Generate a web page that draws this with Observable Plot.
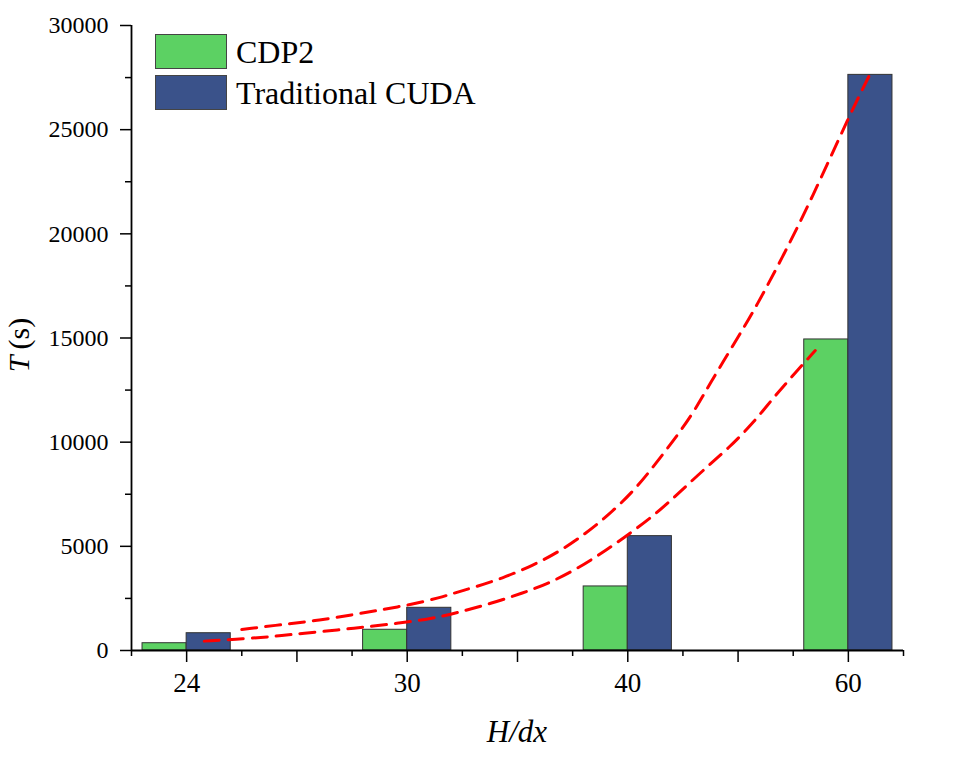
<!DOCTYPE html>
<html>
<head>
<meta charset="utf-8">
<script src="https://cdn.jsdelivr.net/npm/d3@7"></script>
<script src="https://cdn.jsdelivr.net/npm/@observablehq/plot@0.6"></script>
<style>
  body { margin: 0; background: #fff; }
  #wrap { position: relative; width: 963px; height: 758px; font-family: "Liberation Serif", "Times New Roman", serif; }
  .legend { position: absolute; left: 155px; top: 34px; }
  .legend .row { display: flex; align-items: center; height: 35px; margin-bottom: 6px; }
  .legend .sw { width: 72px; height: 35px; box-sizing: border-box; border: 1px solid #444; margin-right: 9px; }
  .legend .lab { font-size: 32px; color: #000; line-height: 32px; }
</style>
</head>
<body>
<div id="wrap"></div>
<script>
// ---- data ----
const categories = ["24", "30", "40", "60"];
const seriesNames = ["CDP2", "Traditional CUDA"];
const seriesColors = ["#5cd163", "#3a528a"];
const cdp2 = [350, 995, 3075, 14930];
const cuda = [830, 2050, 5490, 27630];

// dashed fit curves (x in category-index units)
const upperFitX = [0.25, 0.46, 0.60, 0.75, 0.88, 1.02, 1.15, 1.22, 1.30, 1.43, 1.57, 1.69, 1.81, 1.91, 2.02, 2.11, 2.20, 2.29, 2.36, 2.43, 2.51, 2.58, 2.71, 2.83, 3.01, 3.10];
const upperFitY = [1010, 1280, 1450, 1710, 1950, 2210, 2540, 2780, 3020, 3460, 4080, 4750, 5620, 6480, 7580, 8740, 9980, 11280, 12580, 13820, 15220, 16460, 19050, 21600, 25800, 27700];
const lowerFitX = [0.08, 0.26, 0.40, 0.53, 0.69, 0.81, 0.96, 1.11, 1.23, 1.38, 1.52, 1.65, 1.78, 1.90, 2.01, 2.13, 2.23, 2.34, 2.46, 2.57, 2.65, 2.74, 2.85];
const lowerFitY = [450, 560, 680, 830, 990, 1130, 1310, 1520, 1820, 2260, 2740, 3260, 3980, 4800, 5620, 6580, 7540, 8640, 9740, 10940, 12000, 13100, 14400];

const yTicks = [0, 5000, 10000, 15000, 20000, 25000, 30000];
const yMinorTicks = [2500, 7500, 12500, 17500, 22500, 27500];
const xMajorTicks = [0, 0.5, 1, 1.5, 2, 2.5, 3];
const xMinorTicks = [-0.25, 0.25, 0.75, 1.25, 1.75, 2.25, 2.75, 3.25];
const xDomain = [-0.25, 3.25];
const yDomain = [0, 30000];

// ---- tables ----
const bars = categories.flatMap((c, i) => [
  {i, series: seriesNames[0], value: cdp2[i]},
  {i, series: seriesNames[1], value: cuda[i]}
]);
const upper = upperFitX.map((x, k) => ({x, y: upperFitY[k]}));
const lower = lowerFitX.map((x, k) => ({x, y: lowerFitY[k]}));
const barW = 0.2;

const chart = Plot.plot({
  width: 963,
  height: 758,
  marginLeft: 131,
  marginRight: 60,
  marginTop: 25,
  marginBottom: 108,
  x: {domain: xDomain},
  y: {domain: yDomain},
  color: {domain: seriesNames, range: seriesColors},
  style: {fontFamily: "'Liberation Serif', 'Times New Roman', serif", fontSize: "24px", color: "#000", background: "#fff"},
  marks: [
    Plot.rectY(bars, {
      x1: d => d.series === seriesNames[0] ? d.i - barW : d.i,
      x2: d => d.series === seriesNames[0] ? d.i : d.i + barW,
      y: "value",
      fill: "series",
      stroke: "#333",
      strokeWidth: 1
    }),
    Plot.line(upper, {x: "x", y: "y", stroke: "#ff0000", strokeWidth: 3, strokeDasharray: "15,9", curve: "basis"}),
    Plot.line(lower, {x: "x", y: "y", stroke: "#ff0000", strokeWidth: 3, strokeDasharray: "15,9", curve: "basis"}),
    Plot.ruleY([yDomain[0]], {stroke: "#000", strokeWidth: 1.8}),
    Plot.ruleX([xDomain[0]], {stroke: "#000", strokeWidth: 1.8}),
    Plot.axisY(yTicks, {tickSize: 11, tickPadding: 12, strokeWidth: 1.5, tickFormat: d => String(d), label: null}),
    Plot.axisY(yMinorTicks, {tickSize: 6, strokeWidth: 1.5, tickFormat: () => "", label: null}),
    Plot.axisX(xMajorTicks, {tickSize: 12, tickPadding: 10, strokeWidth: 1.5, fontSize: 27,
      tickFormat: d => Number.isInteger(d) ? categories[d] : "", label: null}),
    Plot.axisX(xMinorTicks, {tickSize: 6, strokeWidth: 1.5, tickFormat: () => "", label: null})
  ]
});

const wrap = document.getElementById("wrap");
wrap.appendChild(chart);

// axis titles with italic parts
const svg = d3.select(chart);
const yt = svg.append("text")
  .attr("transform", "translate(22,345) rotate(-90)")
  .attr("text-anchor", "middle")
  .attr("dominant-baseline", "middle")
  .attr("font-size", 30)
  .attr("fill", "#000");
yt.append("tspan").attr("font-style", "italic").text("T");
yt.append("tspan").text("\u2009(s)");

svg.append("text")
  .attr("x", 517)
  .attr("y", 742)
  .attr("text-anchor", "middle")
  .attr("font-size", 31)
  .attr("font-style", "italic")
  .attr("fill", "#000")
  .text("H/dx");

// legend
const leg = document.createElement("div");
leg.className = "legend";
seriesNames.forEach((name, k) => {
  const row = document.createElement("div");
  row.className = "row";
  const sw = document.createElement("div");
  sw.className = "sw";
  sw.style.background = seriesColors[k];
  const lab = document.createElement("span");
  lab.className = "lab";
  lab.textContent = name;
  row.appendChild(sw);
  row.appendChild(lab);
  leg.appendChild(row);
});
wrap.appendChild(leg);
</script>
</body>
</html>
